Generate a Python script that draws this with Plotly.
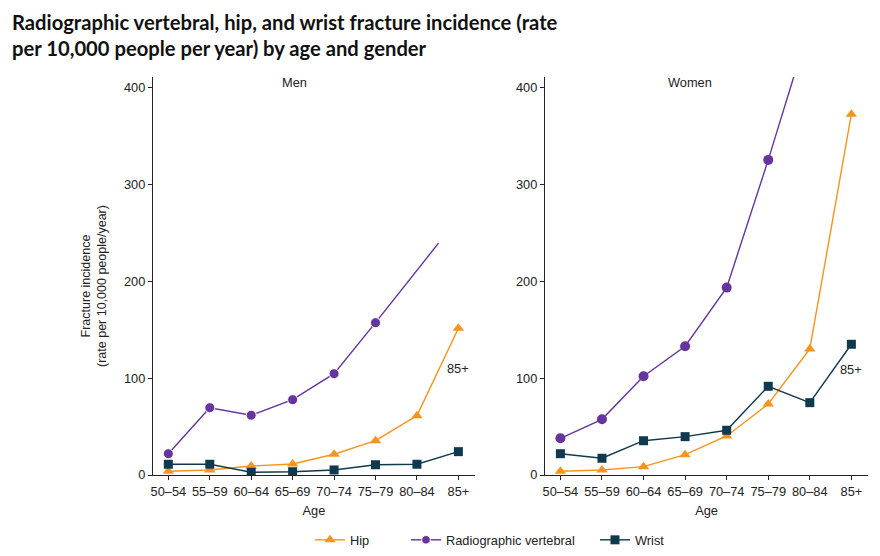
import plotly.graph_objects as go

ages = ["50–54", "55–59", "60–64", "65–69", "70–74", "75–79", "80–84", "85+"]
age_pos = [0, 1, 2, 3, 4, 5, 6, 7]

# Men
hip_men = [3.8, 5.2, 9.3, 11.4, 21.4, 35.4, 61.3, 151.5]
wrist_men = [11.1, 11.1, 2.8, 3.4, 5.2, 10.6, 11.1, 24.1]
vert_men = [22.0, 69.5, 61.7, 77.8, 104.6, 157.3]
vert_men_tail_pos = 6.52
vert_men_tail_val = 239.4

# Women
hip_women = [3.8, 5.2, 8.6, 21.0, 40.3, 73.3, 130.2, 372.6]
wrist_women = [22.0, 17.3, 35.4, 39.6, 46.2, 91.6, 74.7, 135.0]
vert_women = [37.9, 57.5, 102.0, 133.0, 193.5, 325.4, 465]

label_85_men = 109.5
label_85_women = 108.5

C_HIP = "#F7941D"
C_VERT = "#65349C"
C_WRIST = "#0F3A4E"
FONT = "Liberation Sans"
TXT = "#222"
FS = 12.8

fig = go.Figure()

def add(xs, ys, name, color, symbol, size, xa, ya, show, legend="legend"):
    fig.add_trace(go.Scatter(
        x=xs, y=ys, name=name, mode="lines+markers",
        line=dict(color=color, width=1.4),
        marker=dict(color=color, symbol=symbol, size=size, opacity=1),
        xaxis=xa, yaxis=ya, showlegend=show, legend=legend,
    ))

# Men panel
add(age_pos, hip_men, "Hip", C_HIP, "triangle-up", 10, "x", "y", True, "legend")
add(age_pos[:6] + [vert_men_tail_pos], vert_men + [vert_men_tail_val],
    "Radiographic vertebral", C_VERT, "circle", [10] * 6 + [0], "x", "y", True, "legend2")
add(age_pos, wrist_men, "Wrist", C_WRIST, "square", 9, "x", "y", True, "legend3")

# Women panel
add(age_pos, hip_women, "Hip", C_HIP, "triangle-up", 10, "x2", "y2", False)
add(age_pos[:7], vert_women, "Radiographic vertebral", C_VERT, "circle", 10, "x2", "y2", False)
add(age_pos, wrist_women, "Wrist", C_WRIST, "square", 9, "x2", "y2", False)

axis_common = dict(
    showline=True, linecolor=TXT, linewidth=1.3, ticks="outside",
    ticklen=4, tickcolor=TXT, showgrid=False, zeroline=False, automargin=False,
    tickfont=dict(family=FONT, size=FS, color=TXT),
)
xcommon = dict(axis_common, tickvals=age_pos, ticktext=ages, range=[-0.37, 7.4],
               title=dict(text="Age", font=dict(family=FONT, size=FS, color=TXT), standoff=8))
ycommon = dict(axis_common, range=[0, 411], tickvals=[0, 100, 200, 300, 400])

def leg(xpx):
    return dict(orientation="h", xref="container", yref="container",
                x=xpx / 880, xanchor="left", y=1 - 540 / 556, yanchor="middle",
                font=dict(family=FONT, size=FS, color=TXT), bgcolor="rgba(0,0,0,0)")

fig.update_layout(
    width=880, height=556,
    margin=dict(l=153, r=12, t=77, b=81),
    paper_bgcolor="white", plot_bgcolor="white",
    font=dict(family=FONT, color=TXT),
    xaxis=dict(xcommon, domain=[0, 0.4503], anchor="y"),
    xaxis2=dict(xcommon, domain=[0.5483, 1.0], anchor="y2"),
    yaxis=dict(ycommon, anchor="x"),
    yaxis2=dict(ycommon, anchor="x2"),
    legend=leg(310), legend2=leg(406), legend3=leg(595),
    showlegend=True,
)

fig.add_annotation(
    text="<b>Radiographic vertebral, hip, and wrist fracture incidence (rate<br>per 10,000 people per year) by age and gender</b>",
    xref="paper", yref="paper", x=(10 - 153) / 715, y=(475 - 8) / 398,
    xanchor="left", yanchor="top", align="left", showarrow=False,
    font=dict(family="Lato", size=20.2, color="#111"),
)
fig.add_annotation(text="Men", xref="x domain", yref="y domain", x=0.44, y=0.985,
                   showarrow=False, yanchor="middle", font=dict(family=FONT, size=FS, color=TXT))
fig.add_annotation(text="Women", xref="x2 domain", yref="y2 domain", x=0.45, y=0.985,
                   showarrow=False, yanchor="middle", font=dict(family=FONT, size=FS, color=TXT))
fig.add_annotation(text="85+", xref="x", yref="y", x=age_pos[7], y=label_85_men,
                   showarrow=False, font=dict(family=FONT, size=FS, color=TXT))
fig.add_annotation(text="85+", xref="x2", yref="y2", x=age_pos[7], y=label_85_women,
                   showarrow=False, font=dict(family=FONT, size=FS, color=TXT))
fig.add_annotation(text="Fracture incidence<br>(rate per 10,000 people/year)",
                   xref="paper", yref="paper", x=(94 - 153) / 715, y=(475 - 286) / 398,
                   xanchor="center", yanchor="middle",
                   textangle=-90, showarrow=False,
                   font=dict(family=FONT, size=12.5, color=TXT))

fig.write_html("out.html", config={"displayModeBar": False},
               post_script="document.body.style.margin='0';")
